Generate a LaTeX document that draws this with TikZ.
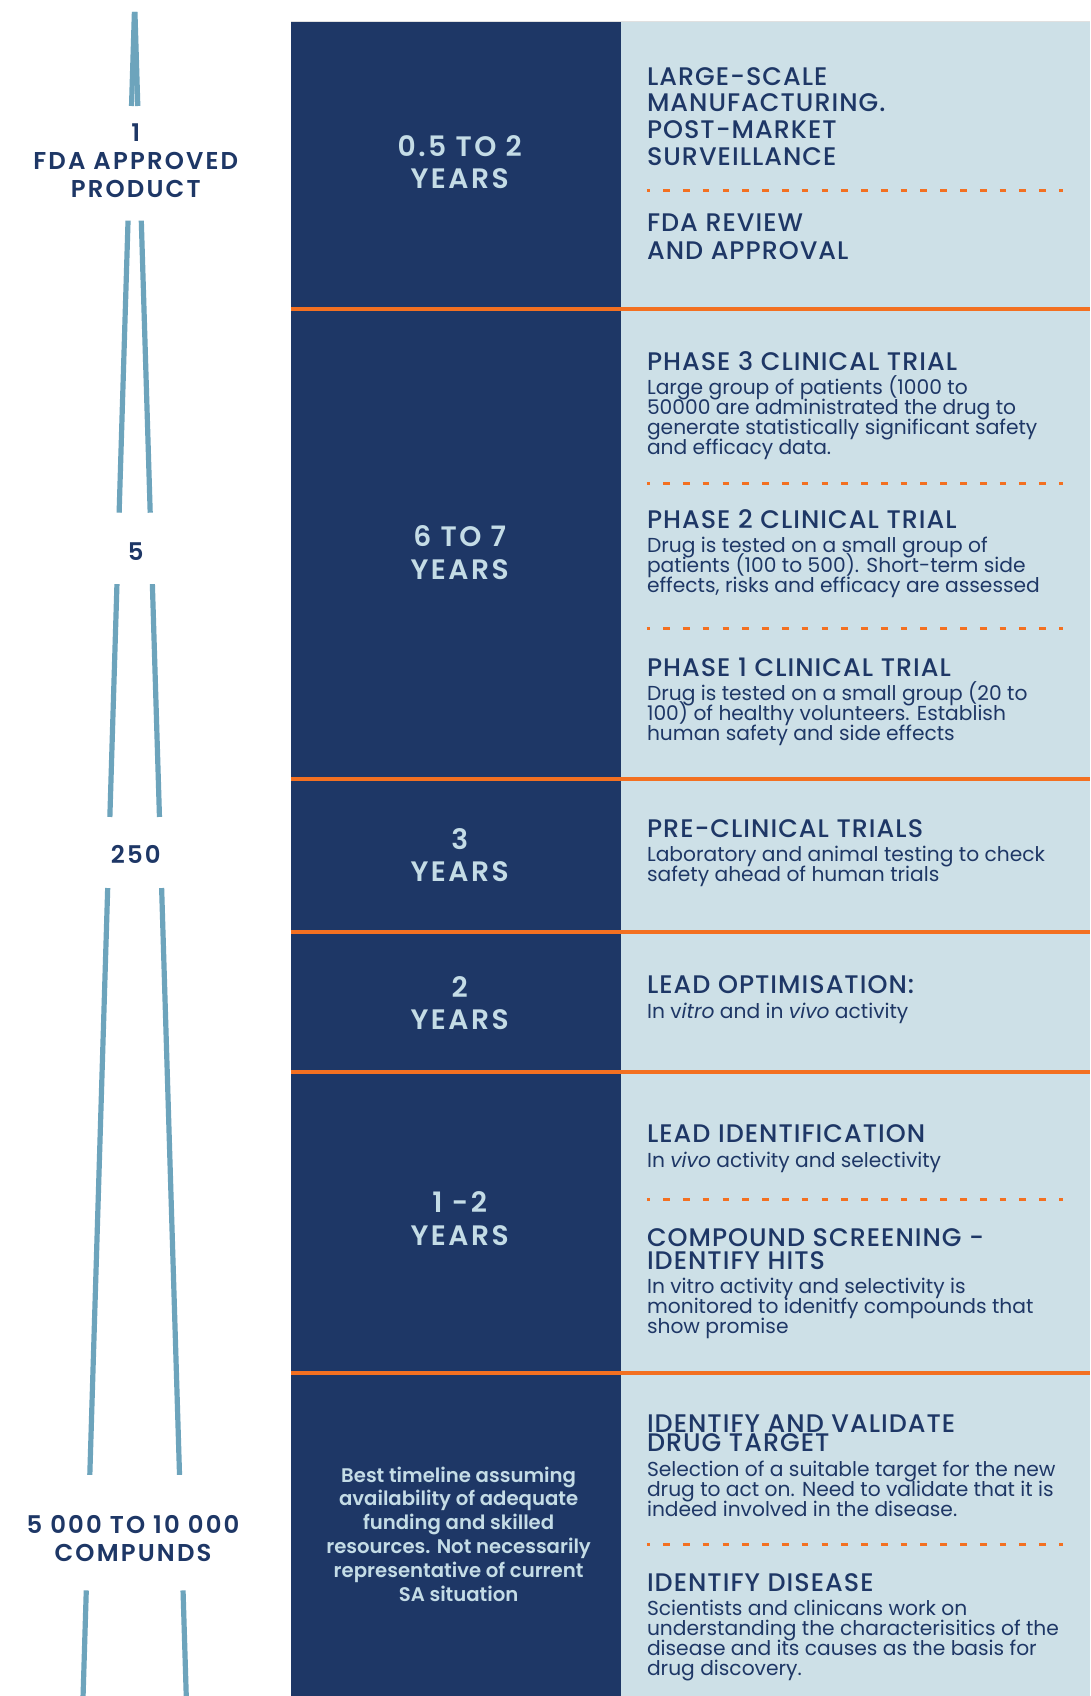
\documentclass[tikz,border=0pt]{standalone}
\usepackage{fontspec}
\setmainfont{Poppins}
\newfontfamily\hfont{Poppins Medium}[LetterSpace=4]
\newfontfamily\sbfont{Poppins SemiBold}
\newfontfamily\trkfont{Poppins SemiBold}[LetterSpace=9]
\definecolor{navy}{RGB}{30,55,102}
\definecolor{lightp}{RGB}{205,224,231}
\definecolor{orng}{RGB}{243,112,33}
\definecolor{funnel}{RGB}{109,164,188}
\definecolor{paletxt}{RGB}{196,220,230}
\newcommand\mlL[1]{\vtop{\lineskiplimit=-1000pt\lineskip=0pt\let\\\cr\halign{##\hfil\cr#1\crcr}}}
\newcommand\mlC[1]{\vtop{\lineskiplimit=-1000pt\lineskip=0pt\let\\\cr\halign{\hfil##\hfil\cr#1\crcr}}}
\newcommand\HF[1]{\hfont\fontsize{23.5}{#1}\selectfont}
\newcommand\BF{\fontsize{18.7}{18.5}\selectfont}
\tikzset{
  x=1pt,y=-1pt,
  heading/.style={anchor=base west,inner sep=0pt,text=navy},
  bodytxt/.style={anchor=base west,inner sep=0pt,text=navy,font=\BF},
  yearlbl/.style={anchor=base,inner sep=0pt,text=paletxt,font={\trkfont\fontsize{26}{29.8}\selectfont}},
  countlbl/.style={anchor=base,inner sep=0pt,text=navy,font={\trkfont\fontsize{22.5}{26}\selectfont}},
  sepline/.style={draw=orng,line width=3.7pt},
  dashsep/.style={draw=orng,line width=2.8pt,dash pattern=on 6.2pt off 12.1pt,dash phase=3.2pt},
  funline/.style={draw=funnel,line width=4.8pt}
}
\begin{document}
\begin{tikzpicture}
\useasboundingbox (0,0) rectangle (1008,1568);
\fill[white] (0,0) rectangle (1008,1568);
% panels
\fill[navy] (269,20) rectangle (574,1568);
\fill[lightp] (574,20) rectangle (1008,1568);
\draw[black!12,line width=0.8pt] (269,20) -- (1008,20);
% funnel
\draw[funline] (121.60,98) -- (124.26,11);
\draw[funline] (127.40,98) -- (124.74,11);
\draw[funline] (110.14,474) -- (118.37,204);
\draw[funline] (138.86,474) -- (130.63,204);
\draw[funline] (101.57,755.3) -- (108.13,540);
\draw[funline] (147.43,755.3) -- (140.87,540);
\draw[funline] (83.03,1363.5) -- (99.57,821);
\draw[funline] (165.97,1363.5) -- (149.43,821);
\draw[funline] (76.8,1568) -- (79.77,1470.4);
\draw[funline] (172.2,1568) -- (169.23,1470.4);
% counts
\node[countlbl] (c1) at (125.5,131) {\mlC{1\\FDA APPROVED\\PRODUCT}};
\node[countlbl] (c5) at (125.5,518) {5};
\node[countlbl] (c250) at (125.5,798.4) {250};
\node[countlbl,font={\trkfont\fontsize{22.5}{25.3}\selectfont}] (c5000) at (123,1418) {\mlC{5 000 TO 10 000\\COMPUNDS}};
% separators
\draw[sepline] (269,285.8) -- (1008,285.8);
\draw[sepline] (269,720.5) -- (1008,720.5);
\draw[sepline] (269,861.6) -- (1008,861.6);
\draw[sepline] (269,991.1) -- (1008,991.1);
\draw[sepline] (269,1269.1) -- (1008,1269.1);
\draw[dashsep] (598,176) -- (983,176);
\draw[dashsep] (598,447) -- (983,447);
\draw[dashsep] (598,581) -- (983,581);
\draw[dashsep] (598,1108.9) -- (983,1108.9);
\draw[dashsep] (598,1428.2) -- (983,1428.2);
% years
\node[yearlbl] (y1) at (425,144.3) {\mlC{0.5 TO 2\\YEARS}};
\node[yearlbl] (y2) at (425,505.5) {\mlC{6 TO 7\\YEARS}};
\node[yearlbl] (y3) at (425,785.3) {\mlC{3\\YEARS}};
\node[yearlbl] (y4) at (425,922.3) {\mlC{2\\YEARS}};
\node[yearlbl] (y5) at (425,1121.3) {\mlC{1 -2\\YEARS}};
\node[anchor=base,inner sep=0pt,text=paletxt,font={\sbfont\fontsize{18.2}{22}\selectfont}] (note) at (424,1370.2)
  {\mlC{Best timeline assuming\\availability of adequate\\funding and skilled\\resources. Not necessarily\\representative of current\\SA situation}};
% right column
\node[heading,font={\HF{24.9}}] (hA) at (598,78.6) {\mlL{LARGE-SCALE\\MANUFACTURING.\\POST-MARKET\\SURVEILLANCE}};
\node[heading,font={\HF{25.3}}] (hB) at (598,214.2) {\mlL{FDA REVIEW\\AND APPROVAL}};
\node[heading,font={\HF{25}}] (h3) at (598,342.8) {PHASE 3 CLINICAL TRIAL};
\node[bodytxt] (b3) at (598,364.7) {\mlL{Large group of patients (1000 to\\50000 are administrated the drug to\\generate statistically significant safety\\and efficacy data.}};
\node[heading,font={\HF{25}}] (h2) at (598,489) {PHASE 2 CLINICAL TRIAL};
\node[bodytxt] (b2) at (598,511.1) {\mlL{Drug is tested on a small group of\\patients (100 to 500). Short-term side\\effects, risks and efficacy are assessed}};
\node[heading,font={\HF{25}}] (h1) at (598,625) {PHASE 1 CLINICAL TRIAL};
\node[bodytxt] (b1) at (598,647.4) {\mlL{Drug is tested on a small group (20 to\\100) of healthy volunteers. Establish\\human safety and side effects}};
\node[heading,font={\HF{25}}] (hP) at (598,774.4) {PRE-CLINICAL TRIALS};
\node[bodytxt] (bP) at (598,796.9) {\mlL{Laboratory and animal testing to check\\safety ahead of human trials}};
\node[heading,font={\HF{25}}] (hO) at (598,918.7) {LEAD OPTIMISATION:};
\node[bodytxt] (bO) at (598,941.8) {In v\textit{itro} and in \textit{vivo} activity};
\node[heading,font={\HF{25}}] (hI) at (598,1056.4) {LEAD IDENTIFICATION};
\node[bodytxt] (bI) at (598,1079) {In \textit{vivo} activity and selectivity};
\node[heading,font={\HF{21.9}}] (hC) at (598,1152) {\mlL{COMPOUND SCREENING -\\IDENTIFY HITS}};
\node[bodytxt] (bC) at (598,1196.1) {\mlL{In vitro activity and selectivity is\\monitored to idenitfy compounds that\\show promise}};
\node[heading,font={\HF{17.9}}] (hV) at (598,1324) {\mlL{IDENTIFY AND VALIDATE\\DRUG TARGET}};
\node[bodytxt] (bV) at (598,1365) {\mlL{Selection of a suitable target for the new\\drug to act on. Need to validate that it is\\indeed involved in the disease.}};
\node[heading,font={\HF{25}}] (hD) at (598,1471) {IDENTIFY DISEASE};
\node[bodytxt] (bD) at (598,1493.6) {\mlL{Scientists and clinicans work on\\understanding the characterisitics of the\\disease and its causes as the basis for\\drug discovery.}};
\end{tikzpicture}
\end{document}
